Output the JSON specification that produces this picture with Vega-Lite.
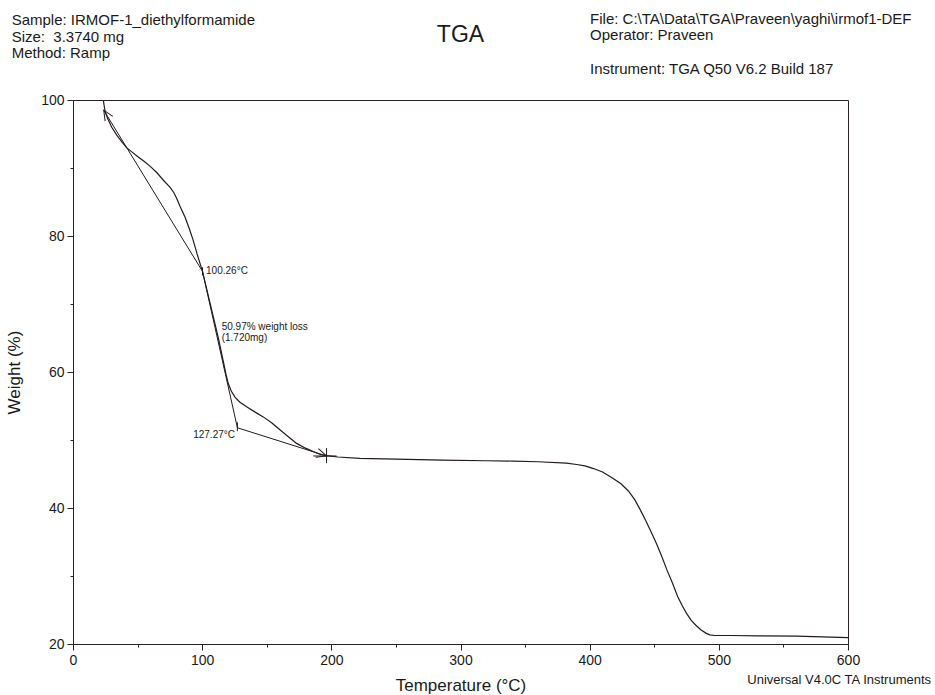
{
  "$schema": "https://vega.github.io/schema/vega-lite/v6.json",
  "width": 775,
  "height": 544,
  "autosize": {"type": "none"},
  "padding": {"left": 73, "top": 100, "right": 87, "bottom": 51},
  "background": "white",
  "config": {
    "view": {"stroke": "#2a2222", "strokeWidth": 1},
    "font": "Liberation Sans",
    "axis": {
      "grid": false,
      "domainColor": "#2a2222",
      "tickColor": "#2a2222",
      "labelColor": "#1a1a1a",
      "titleColor": "#1a1a1a",
      "labelFont": "Liberation Sans",
      "titleFont": "Liberation Sans",
      "labelFontSize": 14,
      "titleFontSize": 17,
      "titleFontWeight": "normal"
    }
  },
  "datasets": {
    "curve": [
      {"T": 23.5, "W": 100.0}, {"T": 24.0, "W": 99.3}, {"T": 25.0, "W": 98.2}, {"T": 27, "W": 97.2},
      {"T": 30, "W": 96.0}, {"T": 34, "W": 94.8}, {"T": 38, "W": 93.8}, {"T": 41.5, "W": 93.0},
      {"T": 46, "W": 92.3}, {"T": 50, "W": 91.7}, {"T": 55, "W": 91.0}, {"T": 60, "W": 90.2},
      {"T": 65, "W": 89.3}, {"T": 70, "W": 88.2}, {"T": 75, "W": 87.2}, {"T": 78, "W": 86.4},
      {"T": 80.3, "W": 85.5}, {"T": 83, "W": 84.3}, {"T": 86.7, "W": 82.8}, {"T": 90, "W": 81.1},
      {"T": 93, "W": 79.4}, {"T": 96, "W": 77.4}, {"T": 100.26, "W": 74.8}, {"T": 103, "W": 72.6},
      {"T": 106, "W": 70.2}, {"T": 109, "W": 67.8}, {"T": 112.5, "W": 65.0}, {"T": 116, "W": 61.9},
      {"T": 118.5, "W": 59.6}, {"T": 120.2, "W": 58.3}, {"T": 122.5, "W": 57.2}, {"T": 125.4, "W": 56.3},
      {"T": 129, "W": 55.6}, {"T": 134.4, "W": 54.9}, {"T": 141, "W": 54.1}, {"T": 147.3, "W": 53.4},
      {"T": 154, "W": 52.5}, {"T": 160.2, "W": 51.5}, {"T": 166, "W": 50.6}, {"T": 173.1, "W": 49.5},
      {"T": 180, "W": 48.8}, {"T": 186, "W": 48.3}, {"T": 191, "W": 47.9}, {"T": 196.3, "W": 47.7},
      {"T": 205, "W": 47.5}, {"T": 222, "W": 47.3}, {"T": 250, "W": 47.2}, {"T": 286, "W": 47.05},
      {"T": 320, "W": 46.95}, {"T": 341, "W": 46.9}, {"T": 360, "W": 46.8}, {"T": 382, "W": 46.6},
      {"T": 390, "W": 46.4}, {"T": 396.3, "W": 46.2}, {"T": 403, "W": 45.8}, {"T": 410, "W": 45.3},
      {"T": 417, "W": 44.5}, {"T": 424, "W": 43.6}, {"T": 430, "W": 42.5}, {"T": 435, "W": 41.2},
      {"T": 439, "W": 39.8}, {"T": 443.3, "W": 38.2}, {"T": 447.5, "W": 36.5}, {"T": 451.6, "W": 34.8},
      {"T": 456, "W": 32.8}, {"T": 459.8, "W": 30.9}, {"T": 464, "W": 29.0}, {"T": 468.1, "W": 27.0},
      {"T": 471.5, "W": 25.7}, {"T": 475, "W": 24.5}, {"T": 478.5, "W": 23.5}, {"T": 482, "W": 22.8},
      {"T": 486, "W": 22.1}, {"T": 490, "W": 21.6}, {"T": 493, "W": 21.35}, {"T": 497, "W": 21.25},
      {"T": 510, "W": 21.25}, {"T": 530, "W": 21.2}, {"T": 560, "W": 21.15}, {"T": 580, "W": 21.05},
      {"T": 600, "W": 20.95}
    ],
    "segments": [
      {"T": 23.8, "W": 98.5, "T2": 100.26, "W2": 74.8},
      {"T": 100.26, "W": 74.8, "T2": 127.27, "W2": 51.8},
      {"T": 127.27, "W": 51.8, "T2": 196.3, "W2": 47.65},
      {"T": 100.26, "W": 75.4, "T2": 100.26, "W2": 74.2},
      {"T": 127.27, "W": 52.6, "T2": 127.27, "W2": 51.3},
      {"T": 186, "W": 47.65, "T2": 204, "W2": 47.65},
      {"T": 196.3, "W": 48.8, "T2": 196.3, "W2": 46.6}
    ],
    "notesLeft": [
      {"label": "100.26°C", "T": 103.0, "W": 74.41},
      {"label": "50.97% weight loss", "T": 115.1, "W": 66.13},
      {"label": "(1.720mg)", "T": 115.1, "W": 64.51}
    ],
    "notesRight": [
      {"label": "127.27°C", "T": 125.4, "W": 50.25}
    ],
    "headerLeft": [
      {"label": "Sample: IRMOF-1_diethylformamide", "T": -47.5, "W": 111.03},
      {"label": "Size: \u00a03.3740 mg", "T": -47.5, "W": 108.6},
      {"label": "Method: Ramp", "T": -47.5, "W": 106.25},
      {"label": "File: C:\\TA\\Data\\TGA\\Praveen\\yaghi\\irmof1-DEF", "T": 400.3, "W": 111.18},
      {"label": "Operator: Praveen", "T": 400.3, "W": 108.82},
      {"label": "Instrument: TGA Q50 V6.2 Build 187", "T": 400.3, "W": 103.82}
    ],
    "heading": [
      {"label": "TGA", "T": 300, "W": 108.53}
    ],
    "footer": [
      {"label": "Universal V4.0C TA Instruments", "T": 664.3, "W": 14.12}
    ]
  },
  "layer": [
    {
      "data": {"name": "curve"},
      "mark": {"type": "line", "color": "#231b1b", "strokeWidth": 1.2},
      "encoding": {
        "x": {
          "field": "T", "type": "quantitative",
          "scale": {"domain": [0, 600], "nice": false, "zero": false},
          "axis": {
            "title": "Temperature (°C)",
            "values": [0, 25, 50, 75, 100, 125, 150, 175, 200, 225, 250, 275, 300, 325, 350, 375, 400, 425, 450, 475, 500, 525, 550, 575, 600],
            "labelExpr": "datum.value % 100 === 0 ? datum.label : ''",
            "tickSize": {"condition": {"test": "datum.value % 100 === 0", "value": 6}, "value": 3},
            "labelFlush": false,
            "labelOverlap": false,
            "labelPadding": 3,
            "titlePadding": 10
          }
        },
        "y": {
          "field": "W", "type": "quantitative",
          "scale": {"domain": [20, 100], "nice": false, "zero": false},
          "axis": {
            "title": "Weight (%)",
            "values": [20, 25, 30, 35, 40, 45, 50, 55, 60, 65, 70, 75, 80, 85, 90, 95, 100],
            "labelExpr": "datum.value % 20 === 0 ? datum.label : ''",
            "tickSize": {"condition": {"test": "datum.value % 20 === 0", "value": 6}, "value": 3},
            "labelOverlap": false,
            "labelPadding": 3,
            "titlePadding": 17
          }
        }
      }
    },
    {
      "data": {"name": "segments"},
      "mark": {"type": "rule", "color": "#231b1b", "strokeWidth": 1},
      "encoding": {
        "x": {"field": "T", "type": "quantitative"},
        "y": {"field": "W", "type": "quantitative"},
        "x2": {"field": "T2"},
        "y2": {"field": "W2"}
      }
    },
    {
      "data": {"values": [{"T": 23.8, "W": 98.5}]},
      "mark": {"type": "point", "shape": "M -1 -0.45 L 0 0 L -1 0.45", "filled": false, "stroke": "#231b1b", "strokeWidth": 1, "size": 400, "angle": 238.5, "opacity": 1},
      "encoding": {
        "x": {"field": "T", "type": "quantitative"},
        "y": {"field": "W", "type": "quantitative"}
      }
    },
    {
      "data": {"values": [{"T": 196.3, "W": 47.65}]},
      "mark": {"type": "point", "shape": "M -1 -0.45 L 0 0 L -1 0.45", "filled": false, "stroke": "#231b1b", "strokeWidth": 1, "size": 400, "angle": 17.4, "opacity": 1},
      "encoding": {
        "x": {"field": "T", "type": "quantitative"},
        "y": {"field": "W", "type": "quantitative"}
      }
    },
    {
      "data": {"name": "notesLeft"},
      "mark": {"type": "text", "align": "left", "baseline": "alphabetic", "fontSize": 10, "color": "#1a1a1a"},
      "encoding": {
        "x": {"field": "T", "type": "quantitative"},
        "y": {"field": "W", "type": "quantitative"},
        "text": {"field": "label"}
      }
    },
    {
      "data": {"name": "notesRight"},
      "mark": {"type": "text", "align": "right", "baseline": "alphabetic", "fontSize": 10, "color": "#1a1a1a"},
      "encoding": {
        "x": {"field": "T", "type": "quantitative"},
        "y": {"field": "W", "type": "quantitative"},
        "text": {"field": "label"}
      }
    },
    {
      "data": {"name": "headerLeft"},
      "mark": {"type": "text", "align": "left", "baseline": "alphabetic", "fontSize": 15, "color": "#1a1a1a"},
      "encoding": {
        "x": {"field": "T", "type": "quantitative"},
        "y": {"field": "W", "type": "quantitative"},
        "text": {"field": "label"}
      }
    },
    {
      "data": {"name": "heading"},
      "mark": {"type": "text", "align": "center", "baseline": "alphabetic", "fontSize": 23, "color": "#1a1a1a"},
      "encoding": {
        "x": {"field": "T", "type": "quantitative"},
        "y": {"field": "W", "type": "quantitative"},
        "text": {"field": "label"}
      }
    },
    {
      "data": {"name": "footer"},
      "mark": {"type": "text", "align": "right", "baseline": "alphabetic", "fontSize": 13, "color": "#1a1a1a"},
      "encoding": {
        "x": {"field": "T", "type": "quantitative"},
        "y": {"field": "W", "type": "quantitative"},
        "text": {"field": "label"}
      }
    }
  ]
}
